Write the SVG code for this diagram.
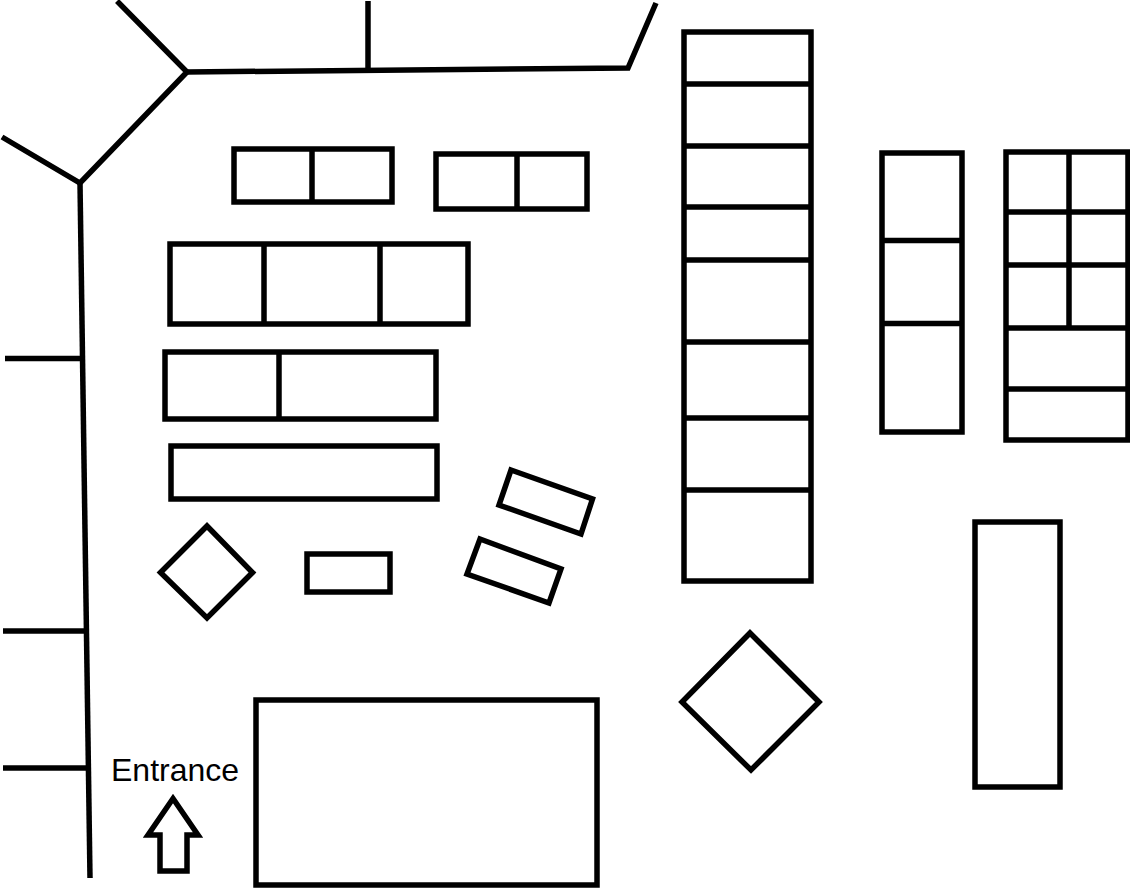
<svg xmlns="http://www.w3.org/2000/svg" width="1130" height="888" viewBox="0 0 1130 888">
<style>
.s{fill:none;stroke:#000;stroke-width:5.5}
.r{fill:#fff;stroke:#000;stroke-width:5.5}
text{font-family:"Liberation Sans",Arial,sans-serif;font-size:32px;fill:#000}
</style>
<rect width="1130" height="888" fill="#fff"/>
<g id="roads">
<path class="s" d="M117 1L187 72L80 183L2 137"/>
<path class="s" d="M187 72L628 68L656 3"/>
<path class="s" d="M368 1V70"/>
<path class="s" d="M80 183L90 878"/>
<path class="s" d="M5 358.500H81"/>
<path class="s" d="M3 631H85"/>
<path class="s" d="M3 768H87"/>
</g>
<g id="block1"><rect class="r" x="234" y="149" width="158" height="53"/><path class="s" d="M312 149V202"/></g>
<g id="block2"><rect class="r" x="436" y="154" width="151" height="55"/><path class="s" d="M517 154V209"/></g>
<g id="block3"><rect class="r" x="170" y="244" width="298" height="80"/><path class="s" d="M264 244V324M380 244V324"/></g>
<g id="block4"><rect class="r" x="165" y="352" width="271" height="67"/><path class="s" d="M279 352V419"/></g>
<g id="block5"><rect class="r" x="171" y="446" width="266" height="53"/></g>
<g id="diamond-small"><path class="r" d="M207 526L252.500 572.500L207 618L160.500 572.500Z"/></g>
<g id="block6"><rect class="r" x="307" y="554" width="83" height="38"/></g>
<g id="tilted1"><path class="r" d="M511 470L592.500 499L581 534L499 505Z"/></g>
<g id="tilted2"><path class="r" d="M480 539L561 569L549 603L467 574Z"/></g>
<g id="tall-block"><rect class="r" x="684" y="32" width="127" height="549"/><path class="s" d="M684 84H811M684 146H811M684 207H811M684 260H811M684 342H811M684 418H811M684 490H811"/></g>
<g id="block7"><rect class="r" x="882" y="153" width="80" height="279"/><path class="s" d="M882 240.500H962M882 323.500H962"/></g>
<g id="block8"><rect class="r" x="1006" y="152" width="122" height="288"/><path class="s" d="M1006 212H1128M1006 265H1128M1006 328H1128M1006 389H1128M1069 152V328"/></g>
<g id="block9"><rect class="r" x="975" y="522" width="85" height="265"/></g>
<g id="diamond-large"><path class="r" d="M750 633L819 702L751 770L682 702Z"/></g>
<g id="block10"><rect class="r" x="256" y="700" width="341" height="185"/></g>
<g id="entrance"><text x="111" y="780.500">Entrance</text><path class="r" d="M173 798.500L198 835H187V871H160V835H148Z"/></g>
</svg>
